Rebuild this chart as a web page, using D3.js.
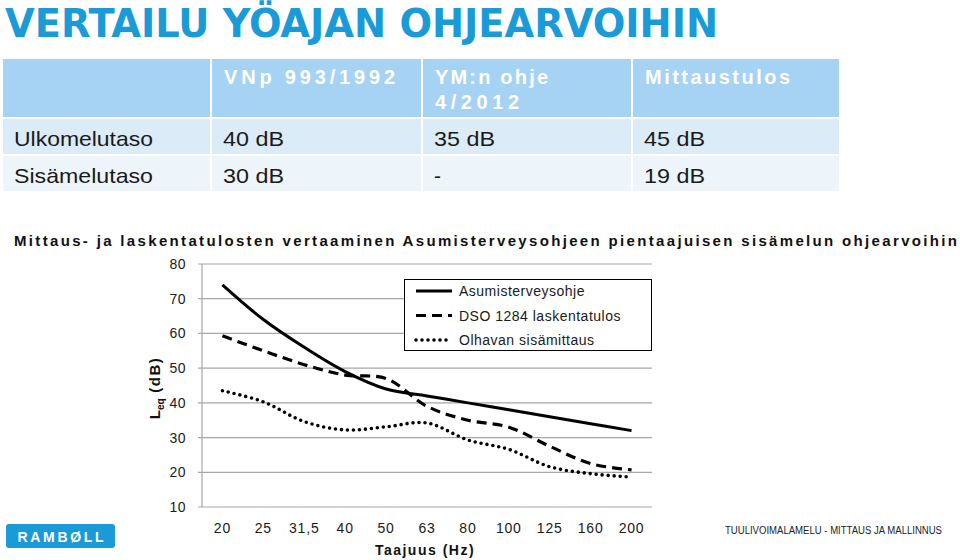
<!DOCTYPE html>
<html><head><meta charset="utf-8">
<script src="https://cdn.jsdelivr.net/npm/d3@7"></script>
<style>body{margin:0;background:#fff;}svg{display:block;font-family:"Liberation Sans",Arial,sans-serif;}</style>
</head><body><svg id="c" width="960" height="560"></svg>
<script>
const categories = ["20","25","31,5","40","50","63","80","100","125","160","200"];
const asumisterveysohje = [74,64,56,49,44,42,40,38,36,34,32];
const dso1284 = [59.3,55,51,48,47,39,35,33,27.5,22.5,20.7];
const olhavan = [43.5,40.3,34.6,32.2,33.1,34.2,29.3,26.6,21.6,19.6,18.6];
const yTicks = [10,20,30,40,50,60,70,80];
const seriesNames = ["Asumisterveysohje","DSO 1284 laskentatulos","Olhavan sisämittaus"];
const tableHeader = [[],["VNp 993/1992"],["YM:n ohje","4/2012"],["Mittaustulos"]];
const tableRows = [["Ulkomelutaso","40 dB","35 dB","45 dB"],["Sisämelutaso","30 dB","-","19 dB"]];

const svg = d3.select("#c");

// Title
svg.append("text").attr("x",5).attr("y",37)
  .attr("font-family","'Liberation Sans Narrow','DejaVu Sans Condensed',Arial,sans-serif")
  .attr("font-weight","bold").attr("font-size",39).attr("fill","#1a9ad6")
  .attr("textLength",713).attr("lengthAdjust","spacingAndGlyphs")
  .text("VERTAILU YÖAJAN OHJEARVOIHIN");

// Table
const colX = [3,212,423,633,841];
const rowY = [59,119,156,193];
const rowFill = ["#a6d2f3","#dcebf8","#edf5fb"];
for(let r=0;r<3;r++){
  for(let c=0;c<4;c++){
    svg.append("rect").attr("x",colX[c]).attr("y",rowY[r])
      .attr("width",colX[c+1]-colX[c]-2).attr("height",rowY[r+1]-rowY[r]-2)
      .attr("fill",rowFill[r]);
  }
}
const headerLen = [[],[171],[113,84],[145]];
tableHeader.forEach((lines,c)=>{
  lines.forEach((l,i)=>{
    svg.append("text").attr("x",colX[c]+12).attr("y",84+i*25)
      .attr("font-size",20).attr("font-weight","bold").attr("fill","#ffffff")
      .attr("textLength",headerLen[c][i]).attr("lengthAdjust","spacing").text(l);
  });
});
tableRows.forEach((row,r)=>{
  row.forEach((v,c)=>{
    const t = svg.append("text").attr("x",colX[c]+11).attr("y",rowY[r+1]+27)
      .attr("font-size",21).attr("fill","#1a1a1a").text(v);
    if(v.length>1) t.attr("textLength", c===0 ? 139 : 61).attr("lengthAdjust","spacingAndGlyphs");
  });
});

// Subtitle
svg.append("text").attr("x",14).attr("y",246).attr("font-size",15).attr("font-weight","bold")
  .attr("fill","#111").attr("textLength",943).attr("lengthAdjust","spacing")
  .text("Mittaus- ja laskentatulosten vertaaminen Asumisterveysohjeen pientaajuisen sisämelun ohjearvoihin");

// Chart
const x = d3.scaleBand().domain(categories).range([202,652]);
const cx = c => x(c)+x.bandwidth()/2;
const y = d3.scaleLinear().domain([10,80]).range([507,264]);

const g = svg.append("g");
g.selectAll("line.grid").data(yTicks).join("line").attr("class","grid")
  .attr("x1",198).attr("x2",652).attr("y1",d=>y(d)).attr("y2",d=>y(d))
  .attr("stroke","#a6a6a6").attr("stroke-width",1.2);
g.append("line").attr("x1",202).attr("x2",202).attr("y1",y(80)).attr("y2",y(10))
  .attr("stroke","#a6a6a6").attr("stroke-width",1.2);
g.selectAll("text.yt").data(yTicks).join("text").attr("class","yt")
  .attr("x",186).attr("y",d=>y(d)+5).attr("text-anchor","end")
  .attr("font-size",14).attr("fill","#1a1a1a").attr("letter-spacing",0.5).text(d=>d);
g.selectAll("text.xt").data(categories).join("text").attr("class","xt")
  .attr("x",d=>cx(d)).attr("y",533).attr("text-anchor","middle")
  .attr("font-size",14).attr("fill","#1a1a1a").attr("letter-spacing",0.8).text(d=>d);

// axis titles
svg.append("text").attr("x",425).attr("y",555).attr("text-anchor","middle")
  .attr("font-size",14).attr("font-weight","bold").attr("letter-spacing",1.5).attr("fill","#111")
  .text("Taajuus (Hz)");
const yl = svg.append("text").attr("transform","translate(160,388) rotate(-90)")
  .attr("text-anchor","middle").attr("font-size",15).attr("font-weight","bold").attr("fill","#111");
yl.append("tspan").text("L");
yl.append("tspan").attr("font-size",10).attr("dy",4).text("eq");
yl.append("tspan").attr("dy",-4).attr("letter-spacing",1.5).text(" (dB)");

const line = d3.line().x((d,i)=>cx(categories[i])).y(d=>y(d)).curve(d3.curveCatmullRom.alpha(0.5));
const styles = [
  {data:asumisterveysohje, dash:null, cap:"butt", w:3},
  {data:dso1284, dash:"10,6", cap:"butt", w:3.2},
  {data:olhavan, dash:"0,6", cap:"round", w:3.6}
];
styles.forEach(s=>{
  g.append("path").attr("d",line(s.data)).attr("fill","none").attr("stroke","#000")
    .attr("stroke-width",s.w).attr("stroke-dasharray",s.dash).attr("stroke-linecap",s.cap);
});

// Legend
const lg = svg.append("g");
lg.append("rect").attr("x",404.5).attr("y",279.5).attr("width",247).attr("height",71)
  .attr("fill","#fff").attr("stroke","#000").attr("stroke-width",1);
seriesNames.forEach((n,i)=>{
  const yy = 291+i*24.5;
  lg.append("line").attr("x1",416).attr("x2",452).attr("y1",yy).attr("y2",yy)
    .attr("stroke","#000").attr("stroke-width",styles[i].w)
    .attr("stroke-dasharray",styles[i].dash).attr("stroke-linecap",styles[i].cap);
  lg.append("text").attr("x",459).attr("y",yy+5).attr("font-size",14).attr("fill","#1a1a1a")
    .attr("letter-spacing",0.5).text(n);
});

// Logo
svg.append("rect").attr("x",6).attr("y",524).attr("width",109).attr("height",24).attr("rx",3)
  .attr("fill","#1a9ad6");
svg.append("text").attr("x",60.5).attr("y",541.5).attr("text-anchor","middle").attr("font-size",14)
  .attr("font-weight","bold").attr("fill","#fff").attr("textLength",86).attr("lengthAdjust","spacing")
  .text("RAMBØLL");

// Footer
svg.append("text").attr("x",725).attr("y",534).attr("font-size",10).attr("fill","#222")
  .attr("textLength",217).attr("lengthAdjust","spacingAndGlyphs")
  .text("TUULIVOIMALAMELU - MITTAUS JA MALLINNUS");
</script></body></html>
